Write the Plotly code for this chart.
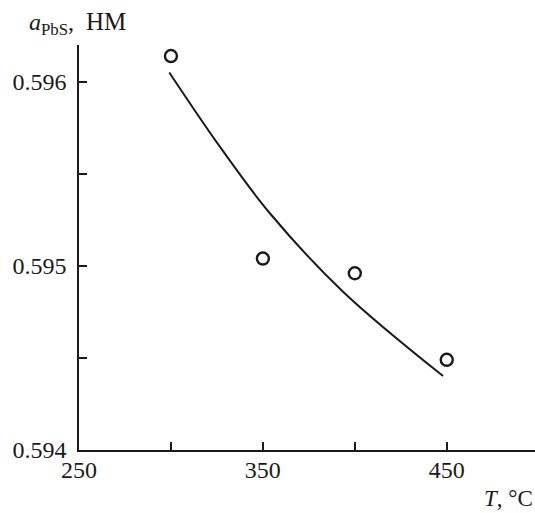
import plotly.graph_objects as go

# measured points
T_points = [300, 350, 400, 450]
a_points = [0.59614, 0.59504, 0.59496, 0.59449]

# fitted curve
T_curve = [299.1, 326.6, 353.8, 393.6, 448.0]
a_curve = [0.596051, 0.595648, 0.595286, 0.594860, 0.594402]

x_tickvals = [250, 300, 350, 400, 450]
x_ticktext = ["250", "", "350", "", "450"]
y_tickvals = [0.594, 0.5945, 0.595, 0.5955, 0.596]
y_ticktext = ["0.594", "", "0.595", "", "0.596"]

FONT = "Liberation Serif"

fig = go.Figure()
fig.add_trace(go.Scatter(x=T_curve, y=a_curve, mode="lines",
                         line=dict(color="#1a1a1a", width=2, shape="spline", smoothing=1.0),
                         showlegend=False, hoverinfo="skip"))
fig.add_trace(go.Scatter(x=T_points, y=a_points, mode="markers",
                         marker=dict(symbol="circle-open", size=12, color="#1a1a1a",
                                     line=dict(width=2.4, color="#1a1a1a")),
                         showlegend=False))

fig.update_layout(
    width=535, height=513,
    margin=dict(l=79, r=0, t=45, b=63),
    plot_bgcolor="white", paper_bgcolor="white",
    font=dict(family=FONT, size=24, color="#1a1a1a"),
    xaxis=dict(range=[250, 498], tickvals=x_tickvals, ticktext=x_ticktext,
               ticks="inside", ticklen=8, tickwidth=1.5, tickcolor="#1a1a1a",
               showline=True, linecolor="#1a1a1a", linewidth=1.5,
               showgrid=False, zeroline=False, ticklabelstandoff=-3),
    yaxis=dict(range=[0.594, 0.5962], tickvals=y_tickvals, ticktext=y_ticktext,
               ticks="inside", ticklen=8, tickwidth=1.5, tickcolor="#1a1a1a",
               showline=True, linecolor="#1a1a1a", linewidth=1.5,
               showgrid=False, zeroline=False, ticklabelstandoff=6),
    annotations=[
        dict(text="<i>a</i><sub>PbS</sub>,&nbsp; <span style=\"font-size:25px\">НМ</span>",
             xref="paper", yref="paper",
             x=(27 - 79) / 456, y=1 + (45 - 23) / 405, xanchor="left", yanchor="middle",
             showarrow=False, font=dict(family=FONT, size=24)),
        dict(text="<i>T</i>, °C", xref="paper", yref="paper",
             x=1.0, y=-(498 - 450) / 405, xanchor="right", yanchor="middle",
             showarrow=False, font=dict(family=FONT, size=23)),
    ],
)

fig.write_html("out.html")
